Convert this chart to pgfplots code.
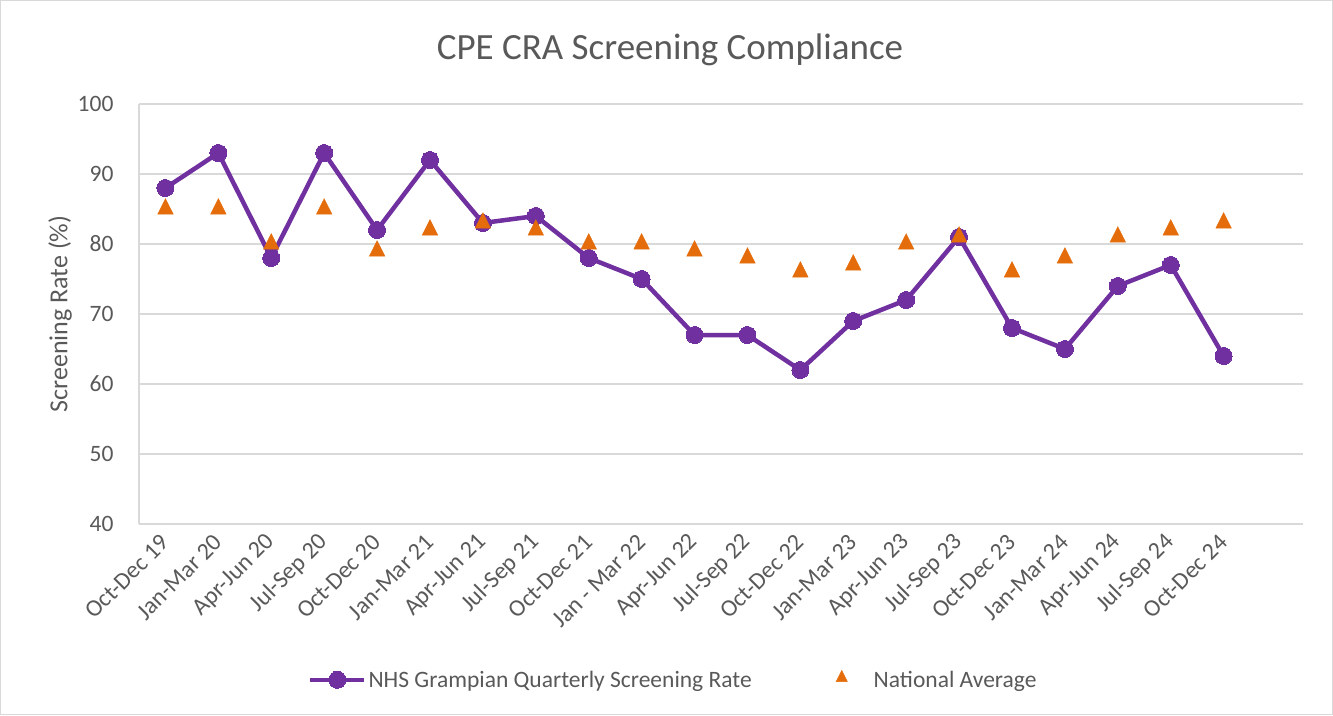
\documentclass[border=0pt]{standalone}
\usepackage{pgfplots}
\pgfplotsset{compat=1.18}
\usetikzlibrary{calc}
\usepackage{fontspec}
\setmainfont{Carlito}
\definecolor{txt}{HTML}{595959}
\definecolor{gridc}{HTML}{D9D9D9}
\definecolor{purp}{HTML}{7030A0}
\definecolor{orng}{HTML}{E46C0A}
\pgfplotsset{
  lineleg/.style={legend image code/.code={\draw[##1, mark repeat=2, mark phase=2] plot coordinates {(0pt,0pt) (27pt,0pt) (54pt,0pt)};}},
  markleg/.style={legend image code/.code={\path[draw=none, fill=none] (0pt,0pt) -- (54pt,0pt);\draw[##1, mark size=6.5pt] plot coordinates {(24pt,2pt)};}},
}
\begin{document}
\begin{tikzpicture}[x=1pt,y=1pt]
\begin{axis}[name=ax, anchor=south west, scale only axis,
  width=1164pt, height=420pt,
  xmin=-0.5, xmax=21.5, ymin=40, ymax=100,
  ytick={40,50,...,100},
  xtick={0,...,20},
  xticklabels={Oct-Dec 19,Jan-Mar 20,Apr-Jun 20,Jul-Sep 20,Oct-Dec 20,Jan-Mar 21,Apr-Jun 21,Jul-Sep 21,Oct-Dec 21,Jan - Mar 22,Apr-Jun 22,Jul-Sep 22,Oct-Dec 22,Jan-Mar 23,Apr-Jun 23,Jul-Sep 23,Oct-Dec 23,Jan-Mar 24,Apr-Jun 24,Jul-Sep 24,Oct-Dec 24},
  /pgf/number format/assume math mode=true,
  tick label style={txt, font=\fontsize{23.5}{27}\selectfont},
  x tick label style={font=\fontsize{24}{27}\selectfont, rotate=45, anchor=east, xshift=-7pt, yshift=-10pt},
  y tick label style={xshift=-22pt},
  major tick length=0pt,
  ymajorgrids, grid style={gridc, line width=1.2pt},
  axis x line*=bottom, axis y line*=left,
  x axis line style={draw=none},
  y axis line style={gridc, line width=1.2pt},
  clip=false,
  legend columns=2,
  legend style={at={(0.459,-0.371)}, anchor=center, draw=none, fill=none,
    text=txt, font=\fontsize{23.5}{27}\selectfont,
    /tikz/every even column/.append style={column sep=64pt}},
  legend cell align=left,
]
\addplot[purp, line width=4.5pt, mark=*, mark size=8.5pt, mark options={solid, line width=0pt, fill=purp}, lineleg]
coordinates {(0,88)(1,93)(2,78)(3,93)(4,82)(5,92)(6,83)(7,84)(8,78)(9,75)(10,67)(11,67)(12,62)(13,69)(14,72)(15,81)(16,68)(17,65)(18,74)(19,77)(20,64)};
\addlegendentry{NHS Grampian Quarterly Screening Rate}
\addplot[only marks, mark=triangle*, mark size=9pt, color=orng, mark options={fill=orng, draw=none, yscale=1.15}, markleg]
coordinates {(0,85)(1,85)(2,80)(3,85)(4,79)(5,82)(6,83)(7,82)(8,80)(9,80)(10,79)(11,78)(12,76)(13,77)(14,80)(15,81)(16,76)(17,78)(18,81)(19,82)(20,83)};
\addlegendentry{National Average}
\end{axis}
\coordinate (O) at ($(ax.south west)+(-139pt,-191pt)$);
\node[txt, font=\fontsize{37}{42}\selectfont] at ($(O)+(670pt,665pt)$) {CPE CRA Screening Compliance};
\node[txt, rotate=90, font=\fontsize{26}{30}\selectfont] at ($(O)+(60pt,401pt)$) {Screening Rate (\%)};
\draw[gridc, line width=1.2pt] ($(O)+(0.6pt,0.6pt)$) rectangle ($(O)+(1332.4pt,714.4pt)$);
\pgfresetboundingbox
\path[use as bounding box] (O) rectangle ($(O)+(1333pt,715pt)$);
\end{tikzpicture}
\end{document}
